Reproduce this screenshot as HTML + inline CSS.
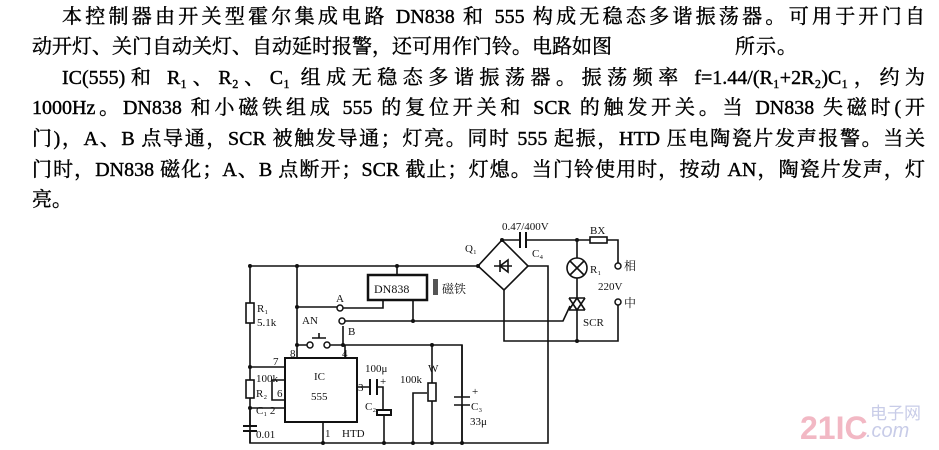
<!DOCTYPE html>
<html><head><meta charset="utf-8"><style>
body{margin:0;width:939px;height:450px;background:#fff;overflow:hidden;position:relative}
.l{position:absolute;font-family:"Liberation Serif","Noto Serif CJK SC",serif;font-size:20px;line-height:22px;color:#000;text-align:justify;text-align-last:justify;white-space:nowrap;font-weight:normal;-webkit-text-stroke:0.4px #000}
svg{position:absolute;left:0;top:0}
.t text{font-family:"Liberation Serif","Noto Serif CJK SC",serif;fill:#111}
</style></head><body>
<div class="l" style="left:62px;top:6px;width:863px">本控制器由开关型霍尔集成电路 DN838 和 555 构成无稳态多谐振荡器。可用于开门自</div>
<div class="l" style="left:32px;top:36px;width:440px">动开灯、关门自动关灯、自动延时报警，还可用作门铃。电路如图</div>
<div class="l" style="left:735px;top:36px;width:62px">所示。</div>
<div class="l" style="left:62px;top:67px;width:863px">IC(555)和 R₁、R₂、C₁ 组成无稳态多谐振荡器。振荡频率 f=1.44/(R₁+2R₂)C₁，约为</div>
<div class="l" style="left:32px;top:97px;width:893px">1000Hz。DN838 和小磁铁组成 555 的复位开关和 SCR 的触发开关。当 DN838 失磁时(开</div>
<div class="l" style="left:32px;top:128px;width:893px">门)，A、B 点导通，SCR 被触发导通；灯亮。同时 555 起振，HTD 压电陶瓷片发声报警。当关</div>
<div class="l" style="left:32px;top:159px;width:893px">门时，DN838 磁化；A、B 点断开；SCR 截止；灯熄。当门铃使用时，按动 AN，陶瓷片发声，灯</div>
<div class="l" style="left:32px;top:189px;text-align-last:left">亮。</div>
<svg width="939" height="450" viewBox="0 0 939 450">
<g stroke="#111" stroke-width="1.6" fill="none">
<path d="M250 266 H478"/>
<path d="M250 266 V443 H548 V266 H528"/>
<rect x="246" y="303" width="8" height="20" fill="#fff"/>
<rect x="246" y="380" width="8" height="18" fill="#fff"/>
<path d="M250 367 H285 M250 408 H285 M272 380 H285 M272 380 V400 H285"/>
<path d="M243 426 H257 M243 431 H257" stroke-width="2"/>
<path d="M250 408 V426 M250 431 V443"/>
<path d="M502 240 L478 266 L504 290 L528 266 Z"/>
<path d="M494 266 H512 M500 260 V272 M500 266 L508 260 V272 Z"/>
<path d="M502 240 H520 M526 240 H577 M577 240 H590 M607 240 H618 V266"/>
<path d="M520 232 V248 M526 232 V248" stroke-width="2"/>
<rect x="590" y="237" width="17" height="6"/>
<path d="M577 240 V258 M577 278 V298"/>
<circle cx="577" cy="268" r="10"/>
<path d="M570 261 L584 275 M584 261 L570 275"/>
<path d="M569 298 H585 M569 310 H585 M569 298 L577 310 L585 298 M569 310 L577 298 L585 310"/>
<path d="M577 310 V341"/>
<path d="M504 290 V341 H618 V304"/>
<path d="M342 321 H563 L570 306"/>
<rect x="368" y="275" width="59" height="25" stroke-width="2.5"/>
<path d="M397 266 V275 M383 300 V308 H340 M413 300 V321"/>
<path d="M297 266 V358 M297 307 H338 M297 345 H310"/>
<path d="M327 345 H462 V443 M343 326 V345 M345 345 V358"/>
<path d="M312 338 H326 M319 338 V333"/>
<rect x="285" y="358" width="72" height="64" stroke-width="2"/>
<path d="M323 422 V443"/>
<path d="M357 387 H370 M377 387 H383 V410"/>
<path d="M370 379 V395 M377 379 V395" stroke-width="2"/>
<rect x="377" y="410" width="14" height="5" stroke-width="2"/>
<path d="M384 415 V443"/>
<path d="M432 345 V443"/>
<rect x="428" y="383" width="8" height="18" fill="#fff"/>
<path d="M413 443 V393 H427"/>
<path d="M462 345 V397 M454 397 H470 M454 405 H470 M462 405 V443" />
</g>
<g stroke="#111" fill="#fff" stroke-width="1.5">
<circle cx="340" cy="308" r="3"/><circle cx="342" cy="321" r="3"/>
<circle cx="310" cy="345" r="3"/><circle cx="327" cy="345" r="3"/>
<circle cx="618" cy="266" r="3"/><circle cx="618" cy="302" r="3"/>
</g>
<g fill="#111">
<circle cx="250" cy="266" r="2"/><circle cx="297" cy="266" r="2"/><circle cx="397" cy="266" r="2"/><circle cx="478" cy="266" r="2"/>
<circle cx="502" cy="240" r="2"/><circle cx="577" cy="240" r="2"/><circle cx="577" cy="341" r="2"/>
<circle cx="250" cy="367" r="2"/><circle cx="250" cy="408" r="2"/><circle cx="297" cy="307" r="2"/><circle cx="297" cy="345" r="2"/>
<circle cx="413" cy="321" r="2"/><circle cx="343" cy="345" r="2"/><circle cx="432" cy="345" r="2"/>
<circle cx="323" cy="443" r="2"/><circle cx="384" cy="443" r="2"/><circle cx="413" cy="443" r="2"/><circle cx="432" cy="443" r="2"/><circle cx="462" cy="443" r="2"/>
</g>
<rect x="433" y="279" width="5" height="16" fill="#555"/>
<g class="t" font-size="11">
<text x="502" y="230">0.47/400V</text>
<text x="590" y="234">BX</text>
<text x="465" y="252">Q₁</text>
<text x="532" y="257">C₄</text>
<text x="590" y="273">R₁</text>
<text x="598" y="290">220V</text>
<text x="624" y="270" font-size="12">相</text>
<text x="624" y="307" font-size="12">中</text>
<text x="583" y="326">SCR</text>
<text x="374" y="293" font-size="12">DN838</text>
<text x="442" y="293" font-size="12">磁铁</text>
<text x="336" y="302">A</text>
<text x="348" y="335">B</text>
<text x="302" y="324">AN</text>
<text x="257" y="312">R₁</text>
<text x="257" y="326">5.1k</text>
<text x="273" y="365">7</text><text x="290" y="357">8</text><text x="342" y="357">4</text>
<text x="256" y="382">100k</text>
<text x="256" y="397">R₂</text><text x="277" y="397">6</text>
<text x="256" y="414">C₁ 2</text>
<text x="256" y="438">0.01</text>
<text x="314" y="380">IC</text><text x="311" y="400">555</text>
<text x="358" y="391">3</text>
<text x="365" y="372">100μ</text><text x="380" y="385">+</text>
<text x="365" y="410">C₂</text>
<text x="342" y="437">HTD</text><text x="325" y="437">1</text>
<text x="428" y="372">W</text><text x="400" y="383">100k</text>
<text x="472" y="395">+</text><text x="471" y="410">C₃</text><text x="470" y="425">33μ</text>
</g>
<text x="800" y="439" font-size="32" font-weight="bold" style="fill:#f2b8c4;font-family:'Liberation Sans',sans-serif">21IC</text>
<text x="870" y="419" font-size="17" style="fill:#c8cce8;font-family:'Noto Sans CJK SC',sans-serif">电子网</text>
<text x="866" y="437" font-size="20" font-style="italic" style="fill:#c8cce8;font-family:'Liberation Sans',sans-serif">.com</text>
</svg>
</body></html>
